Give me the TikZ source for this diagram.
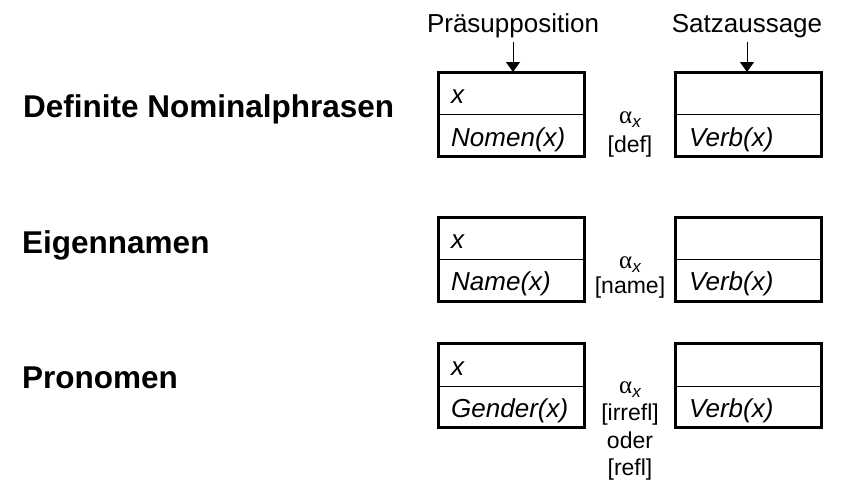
\documentclass[tikz,border=0pt]{standalone}
\usepackage{fontspec}
\setmainfont{Liberation Sans}
\newfontfamily\greekfont{Liberation Serif}
\usetikzlibrary{arrows.meta}
\tikzset{
  lbl/.style={font=\fontsize{31.5}{36}\selectfont\bfseries, anchor=base west, inner sep=0pt},
  boxtxt/.style={font=\fontsize{26}{30}\selectfont\itshape, anchor=base west, inner sep=0pt},
  hdr/.style={font=\fontsize{26}{30}\selectfont, anchor=base, inner sep=0pt},
  mid/.style={font=\fontsize{23}{27}\selectfont, anchor=base, inner sep=0pt},
  frame/.style={draw, line width=3pt, inner sep=0pt, outer sep=0pt, minimum width=146pt, minimum height=84pt, anchor=north west},
  divider/.style={line width=1pt},
  pointer/.style={line width=1pt, -{Triangle[width=14pt,length=10pt]}}
}
\newcommand{\alphax}{{\fontsize{25}{25}\selectfont\greekfont α}\smash{\raisebox{-4pt}{\fontsize{17}{17}\selectfont\itshape x}}}
\begin{document}
\begin{tikzpicture}[x=1pt,y=-1pt]
\useasboundingbox (0,0) rectangle (843,482);
% headers
\node[hdr] (pre) at (513,32) {Präsupposition};
\node[hdr] (sat) at (747,32) {Satzaussage};
% row labels
\node[lbl] (l1) at (23,117) {Definite Nominalphrasen};
\node[lbl] (l2) at (22,253) {Eigennamen};
\node[lbl] (l3) at (22,388) {Pronomen};
% boxes row 1
\node[frame] (p1) at (438.5,72) {};
\node[frame] (s1) at (675,72) {};
\draw[divider] (p1.west |- 0,114) -- (p1.east |- 0,114);
\draw[divider] (s1.west |- 0,114) -- (s1.east |- 0,114);
\node[boxtxt] (p1x) at (451,103) {x};
\node[boxtxt] (p1n) at (451,146) {Nomen(x)};
\node[boxtxt] (s1v) at (689,146) {Verb(x)};
\node[mid] (a1) at (630,123) {\alphax};
\node[mid] (d1) at (630,152) {[def]};
% boxes row 2
\node[frame] (p2) at (438.5,217) {};
\node[frame] (s2) at (675,217) {};
\draw[divider] (p2.west |- 0,259) -- (p2.east |- 0,259);
\draw[divider] (s2.west |- 0,259) -- (s2.east |- 0,259);
\node[boxtxt] (p2x) at (451,248) {x};
\node[boxtxt] (p2n) at (451,290) {Name(x)};
\node[boxtxt] (s2v) at (689,290) {Verb(x)};
\node[mid] (a2) at (630,268) {\alphax};
\node[mid] (d2) at (630,293) {[name]};
% boxes row 3
\node[frame] (p3) at (438.5,343) {};
\node[frame] (s3) at (675,343) {};
\draw[divider] (p3.west |- 0,386) -- (p3.east |- 0,386);
\draw[divider] (s3.west |- 0,386) -- (s3.east |- 0,386);
\node[boxtxt] (p3x) at (451,375) {x};
\node[boxtxt] (p3n) at (451,417) {Gender(x)};
\node[boxtxt] (s3v) at (689,417) {Verb(x)};
\node[mid] (a3) at (630,393) {\alphax};
\node[mid] (d3) at (630,420) {[irrefl]};
\node[mid] (o3) at (630,448) {oder};
\node[mid] (r3) at (630,475) {[refl]};
% pointers
\draw[pointer] ([yshift=-4pt]pre.south) -- (pre.south |- p1.north);
\draw[pointer] ([yshift=-4pt]sat.south) -- (sat.south |- s1.north);
\end{tikzpicture}
\end{document}
